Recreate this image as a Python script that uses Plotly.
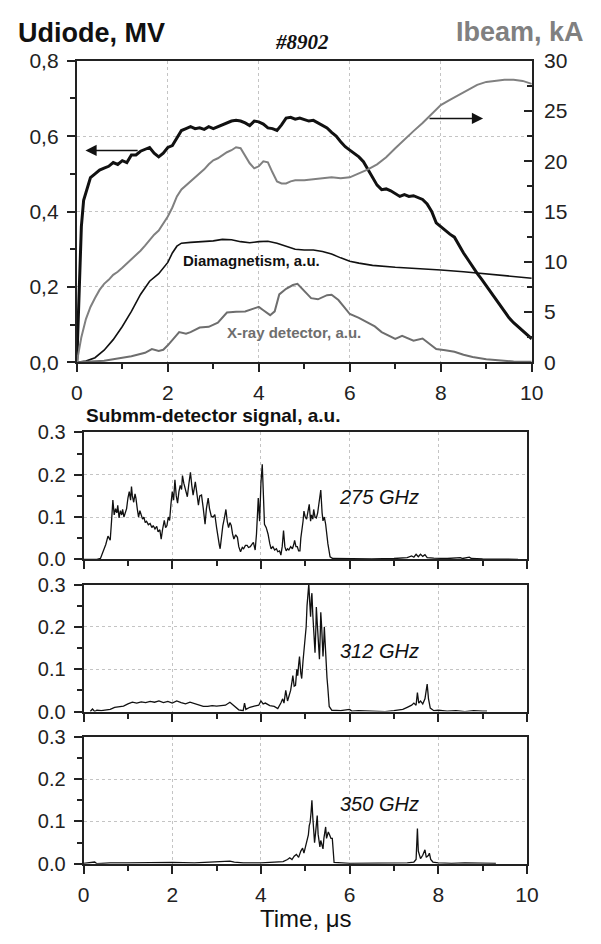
import plotly.graph_objects as go

# ---------------- data ----------------
# Upper panel: diode voltage (MV), beam current (kA), diamagnetic and X-ray signals (a.u.)
t_udiode = [0, 0.05, 0.1, 0.15, 0.2, 0.25, 0.3, 0.4, 0.5, 0.6, 0.7, 0.8, 0.9, 1.0, 1.1, 1.2,
            1.3, 1.4, 1.5, 1.6, 1.7, 1.8, 1.9, 2.0, 2.1, 2.2, 2.3, 2.4, 2.5, 2.6, 2.7, 2.8,
            2.9, 3.0, 3.1, 3.2, 3.3, 3.4, 3.5, 3.6, 3.7, 3.8, 3.9, 4.0, 4.1, 4.2, 4.3, 4.4,
            4.5, 4.6, 4.7, 4.8, 4.9, 5.0, 5.1, 5.2, 5.3, 5.4, 5.5, 5.6, 5.7, 5.8, 5.9, 6.0,
            6.1, 6.2, 6.3, 6.4, 6.5, 6.6, 6.7, 6.8, 6.9, 7.0, 7.1, 7.2, 7.3, 7.4, 7.5, 7.6,
            7.7, 7.8, 7.9, 8.0, 8.1, 8.2, 8.3, 8.4, 8.5, 8.6, 8.7, 8.8, 8.9, 9.0, 9.1, 9.2,
            9.3, 9.4, 9.5, 9.6, 9.7, 9.8, 9.9, 10.0]
udiode = [0, 0.20, 0.36, 0.43, 0.45, 0.47, 0.49, 0.50, 0.51, 0.515, 0.52, 0.53, 0.525, 0.535,
          0.53, 0.55, 0.55, 0.56, 0.565, 0.57, 0.555, 0.545, 0.555, 0.57, 0.575, 0.595, 0.615,
          0.62, 0.625, 0.62, 0.622, 0.618, 0.625, 0.62, 0.625, 0.63, 0.635, 0.64, 0.642, 0.64,
          0.635, 0.628, 0.64, 0.638, 0.632, 0.622, 0.62, 0.615, 0.63, 0.648, 0.65, 0.645, 0.648,
          0.645, 0.64, 0.642, 0.635, 0.63, 0.622, 0.61, 0.60, 0.585, 0.572, 0.563, 0.555, 0.545,
          0.532, 0.51, 0.49, 0.47, 0.458, 0.46, 0.455, 0.448, 0.44, 0.445, 0.44, 0.442, 0.436,
          0.432, 0.42, 0.40, 0.37, 0.36, 0.348, 0.34, 0.332, 0.31, 0.29, 0.272, 0.253, 0.236,
          0.22, 0.203, 0.187, 0.168, 0.15, 0.133, 0.118, 0.105, 0.094, 0.082, 0.071, 0.062]

t_ibeam = [0, 0.1, 0.2, 0.3, 0.4, 0.5, 0.6, 0.7, 0.8, 0.9, 1.0, 1.1, 1.2, 1.3, 1.4, 1.5, 1.6,
           1.7, 1.8, 1.9, 2.0, 2.1, 2.2, 2.3, 2.4, 2.5, 2.6, 2.7, 2.8, 2.9, 3.0, 3.1, 3.2, 3.3,
           3.4, 3.5, 3.6, 3.7, 3.8, 3.9, 4.0, 4.1, 4.2, 4.3, 4.4, 4.5, 4.6, 4.7, 4.8, 5.0, 5.2,
           5.4, 5.6, 5.8, 6.0, 6.2, 6.4, 6.6, 6.8, 7.0, 7.2, 7.4, 7.6, 7.8, 8.0, 8.2, 8.4, 8.6,
           8.8, 9.0, 9.2, 9.4, 9.6, 9.8, 10.0]
ibeam = [0, 2.5, 4.3, 5.5, 6.4, 7.2, 7.8, 8.2, 8.7, 9.0, 9.4, 9.8, 10.3, 10.7, 11.1, 11.6, 12.2,
         12.7, 13.1, 13.8, 14.5, 15.4, 16.5, 17.2, 17.6, 17.9, 18.3, 18.7, 19.2, 19.7, 20.1, 20.3,
         20.6, 20.9, 21.1, 21.4, 21.3, 20.6, 19.8, 19.3, 19.5, 20.0, 19.9, 18.9, 18.0, 17.8, 17.8,
         18.0, 18.1, 18.1, 18.2, 18.3, 18.4, 18.3, 18.4, 18.8, 19.2, 19.7, 20.4, 21.3, 22.2, 23.0,
         23.8, 24.7, 25.6, 26.1, 26.6, 27.1, 27.6, 27.9, 28.0, 28.1, 28.1, 28.0, 27.7]

t_diamag = [0, 0.2, 0.4, 0.6, 0.8, 1.0, 1.2, 1.4, 1.6, 1.8, 2.0, 2.1, 2.2, 2.3, 2.5, 2.8, 3.0,
            3.2, 3.4, 3.6, 3.8, 4.0, 4.2, 4.4, 4.6, 4.8, 5.0, 5.2, 5.4, 5.6, 5.8, 6.0, 6.2, 6.5,
            7.0, 7.5, 8.0, 8.5, 9.0, 9.5, 10.0]
diamag = [0, 0.003, 0.012, 0.032, 0.06, 0.095, 0.135, 0.18, 0.215, 0.235, 0.265, 0.29, 0.308,
          0.316, 0.318, 0.32, 0.322, 0.326, 0.325, 0.32, 0.317, 0.32, 0.321, 0.316, 0.308, 0.30,
          0.298, 0.298, 0.294, 0.287, 0.277, 0.268, 0.263, 0.257, 0.252, 0.249, 0.245, 0.24,
          0.234, 0.228, 0.223]

t_xray = [0, 0.3, 0.6, 0.9, 1.2, 1.5, 1.65, 1.8, 1.9, 2.0, 2.1, 2.25, 2.4, 2.5, 2.7, 2.9, 3.1,
          3.3, 3.5, 3.7, 3.9, 4.0, 4.1, 4.25, 4.35, 4.45, 4.6, 4.75, 4.85, 5.0, 5.15, 5.3, 5.5,
          5.6, 5.75, 5.9, 6.0, 6.2, 6.4, 6.55, 6.7, 6.85, 7.0, 7.15, 7.3, 7.4, 7.6, 7.75, 7.9,
          8.1, 8.3, 8.5, 8.7, 9.0, 9.3, 9.6, 10.0]
xray = [0, 0.001, 0.004, 0.01, 0.016, 0.025, 0.035, 0.03, 0.033, 0.045, 0.06, 0.08, 0.076, 0.08,
        0.092, 0.094, 0.105, 0.132, 0.134, 0.135, 0.143, 0.147, 0.138, 0.125, 0.135, 0.18, 0.195,
        0.205, 0.208, 0.19, 0.17, 0.167, 0.178, 0.179, 0.165, 0.143, 0.128, 0.118, 0.105, 0.095,
        0.08, 0.07, 0.062, 0.07, 0.062, 0.057, 0.063, 0.05, 0.035, 0.032, 0.028, 0.02, 0.014,
        0.008, 0.004, 0.002, 0.001]

# Sub-mm detector signals (a.u.)
t_275 = [0.0, 0.3, 0.38, 0.45, 0.5, 0.55, 0.6, 0.63, 0.66, 0.69, 0.72, 0.75, 0.77, 0.8, 0.83,
         0.86, 0.88, 0.91, 0.94, 0.97, 1.0, 1.03, 1.06, 1.08, 1.1, 1.13, 1.16, 1.18, 1.21, 1.24,
         1.27, 1.3, 1.33, 1.36, 1.39, 1.42, 1.46, 1.5, 1.54, 1.57, 1.61, 1.65, 1.68, 1.72, 1.75,
         1.78, 1.82, 1.85, 1.88, 1.91, 1.94, 1.97, 2.0, 2.03, 2.06, 2.09, 2.12, 2.15, 2.18, 2.21,
         2.23, 2.26, 2.28, 2.31, 2.34, 2.37, 2.41, 2.44, 2.47, 2.5, 2.52, 2.55, 2.59, 2.62, 2.66,
         2.7, 2.74, 2.77, 2.81, 2.84, 2.88, 2.92, 2.96, 3.0, 3.03, 3.06, 3.08, 3.11, 3.14, 3.18,
         3.21, 3.24, 3.27, 3.3, 3.33, 3.36, 3.39, 3.43, 3.47, 3.5, 3.54, 3.58, 3.61, 3.65, 3.69,
         3.72, 3.76, 3.8, 3.83, 3.87, 3.9, 3.94, 3.97, 4.0, 4.03, 4.06, 4.08, 4.12, 4.16, 4.2,
         4.23, 4.27, 4.31, 4.35, 4.38, 4.42, 4.45, 4.48, 4.51, 4.54, 4.57, 4.6, 4.63, 4.67, 4.71,
         4.74, 4.76, 4.79, 4.82, 4.85, 4.88, 4.9, 4.92, 4.95, 4.97, 5.0, 5.03, 5.06, 5.09, 5.12,
         5.14, 5.17, 5.19, 5.22, 5.25, 5.28, 5.31, 5.35, 5.38, 5.4, 5.43, 5.46, 5.51, 5.56, 5.62,
         6.0, 6.5, 7.0, 7.3, 7.4, 7.45, 7.5, 7.55, 7.6, 7.65, 7.7, 7.75, 7.9, 8.2, 8.5, 8.55,
         8.7, 8.75, 9.0, 9.5, 9.8]
s_275 = [0, 0, 0.002, 0.02, 0.035, 0.055, 0.045, 0.09, 0.14, 0.105, 0.12, 0.11, 0.128, 0.098,
         0.115, 0.105, 0.118, 0.1, 0.108, 0.12, 0.145, 0.16, 0.14, 0.172, 0.15, 0.135, 0.155,
         0.145, 0.12, 0.1, 0.115, 0.105, 0.095, 0.1, 0.087, 0.09, 0.082, 0.085, 0.075, 0.08,
         0.072, 0.078, 0.065, 0.07, 0.048, 0.07, 0.092, 0.075, 0.08, 0.1, 0.092, 0.13, 0.16,
         0.14, 0.188, 0.15, 0.133, 0.16, 0.175, 0.165, 0.198, 0.18, 0.17, 0.16, 0.148, 0.175,
         0.206, 0.175, 0.152, 0.17, 0.183, 0.16, 0.128, 0.15, 0.152, 0.12, 0.083, 0.12, 0.145,
         0.12, 0.102, 0.1, 0.106, 0.075, 0.048, 0.035, 0.025, 0.06, 0.079, 0.1, 0.118, 0.09,
         0.075, 0.087, 0.08, 0.06, 0.048, 0.058, 0.052, 0.03, 0.018, 0.028, 0.025, 0.033, 0.033,
         0.028, 0.03, 0.036, 0.04, 0.022, 0.06, 0.145, 0.09, 0.18, 0.225, 0.14, 0.083, 0.075,
         0.06, 0.037, 0.025, 0.03, 0.022, 0.025, 0.018, 0.02, 0.01, 0.03, 0.068, 0.03, 0.02,
         0.025, 0.022, 0.03, 0.025, 0.035, 0.045, 0.03, 0.03, 0.02, 0.02, 0.05, 0.064, 0.09,
         0.114, 0.1, 0.095, 0.115, 0.13, 0.09, 0.105, 0.095, 0.118, 0.1, 0.098, 0.11, 0.13,
         0.164, 0.11, 0.091, 0.1, 0.083, 0.037, 0.006, 0.002, 0.001, 0.001, 0.002, 0.004, 0.008,
         0.005, 0.012, 0.006, 0.012, 0.007, 0.011, 0.004, 0.003, 0.002, 0.004, 0.002, 0.005,
         0.002, 0.001, 0, 0]

t_312 = [0.15, 0.2, 0.25, 0.3, 0.4, 0.5, 0.6, 0.7, 0.8, 0.9, 1.0, 1.1, 1.2, 1.3, 1.4, 1.5, 1.6,
         1.7, 1.8, 1.9, 2.0, 2.1, 2.2, 2.3, 2.4, 2.5, 2.6, 2.7, 2.8, 2.9, 3.0, 3.1, 3.2, 3.3,
         3.4, 3.5, 3.6, 3.63, 3.66, 3.75, 3.85, 3.95, 4.0, 4.05, 4.1, 4.2, 4.3, 4.38, 4.45, 4.49,
         4.52, 4.56, 4.6, 4.64, 4.67, 4.7, 4.72, 4.75, 4.78, 4.81, 4.83, 4.85, 4.87, 4.9, 4.92,
         4.95, 4.97, 5.0, 5.02, 5.04, 5.05, 5.07, 5.08, 5.1, 5.12, 5.14, 5.15, 5.17, 5.19, 5.21,
         5.22, 5.24, 5.25, 5.27, 5.29, 5.31, 5.32, 5.34, 5.35, 5.37, 5.4, 5.42, 5.43, 5.45, 5.47,
         5.49, 5.51, 5.54, 5.6, 5.8, 6.0, 6.05, 6.2, 6.5, 6.8, 7.0, 7.1, 7.2, 7.3, 7.4, 7.45, 7.5,
         7.53, 7.56, 7.6, 7.65, 7.7, 7.73, 7.75, 7.78, 7.82, 7.9, 8.0, 8.2, 8.4, 8.6, 8.8, 9.0,
         9.1]
s_312 = [0.0, 0.006, 0.0, 0.003, 0.002, 0.004, 0.005, 0.01, 0.011, 0.013, 0.018, 0.022, 0.02,
         0.023, 0.021, 0.024, 0.022, 0.025, 0.021, 0.024, 0.02, 0.025, 0.021, 0.018, 0.022,
         0.019, 0.015, 0.012, 0.012, 0.014, 0.013, 0.014, 0.015, 0.022, 0.012, 0.004, 0.002,
         0.02, 0.005, 0.01, 0.013, 0.015, 0.025, 0.018, 0.02, 0.014, 0.012, 0.007, 0.02, 0.03,
         0.02, 0.05, 0.025, 0.04, 0.05, 0.07, 0.085, 0.06, 0.062, 0.1, 0.085, 0.11, 0.13, 0.09,
         0.078, 0.12, 0.147, 0.17, 0.2, 0.25, 0.27, 0.29, 0.302, 0.26, 0.224, 0.27, 0.28, 0.23,
         0.2, 0.16, 0.139, 0.2, 0.247, 0.21, 0.162, 0.13, 0.124, 0.19, 0.235, 0.2, 0.13, 0.17,
         0.2, 0.16, 0.108, 0.08, 0.055, 0.012, 0.003, 0.002, 0.005, 0.001, 0.002, 0.001, 0.0,
         0.002, 0.003, 0.005, 0.01, 0.015, 0.02, 0.015, 0.045, 0.02, 0.025, 0.018, 0.03, 0.05,
         0.065, 0.03, 0.008, 0.002, 0.003, 0.001, 0.002, 0.0, 0.002, 0.001, 0.001]

t_350 = [0, 0.2, 0.25, 0.3, 0.6, 1.0, 1.5, 2.0, 2.5, 3.0, 3.3, 3.4, 3.6, 4.0, 4.3, 4.5, 4.6,
         4.65, 4.7, 4.75, 4.8, 4.85, 4.9, 4.94, 4.97, 5.0, 5.04, 5.07, 5.09, 5.11, 5.13, 5.15,
         5.17, 5.19, 5.21, 5.23, 5.25, 5.27, 5.29, 5.31, 5.33, 5.35, 5.37, 5.4, 5.42, 5.44, 5.46,
         5.48, 5.5, 5.52, 5.55, 5.58, 5.61, 5.63, 5.65, 6.0, 6.5, 7.0, 7.3, 7.45, 7.5, 7.53,
         7.55, 7.6, 7.65, 7.7, 7.73, 7.78, 7.8, 7.83, 7.88, 8.0, 8.3, 8.6, 9.0, 9.3]
s_350 = [0.001, 0.002, 0.004, 0.0, 0.002, 0.002, 0.003, 0.003, 0.002, 0.004, 0.006, 0.004,
         0.002, 0.002, 0.003, 0.005, 0.01, 0.014, 0.01, 0.018, 0.022, 0.015, 0.03, 0.037, 0.025,
         0.04, 0.06, 0.068, 0.09, 0.098, 0.12, 0.15, 0.11, 0.08, 0.05, 0.07, 0.1, 0.114, 0.07,
         0.05, 0.04, 0.055, 0.045, 0.035, 0.06, 0.075, 0.087, 0.06, 0.068, 0.075, 0.068, 0.06,
         0.06, 0.02, 0.003, 0.001, 0.001, 0.002, 0.002, 0.004, 0.01, 0.083, 0.03, 0.012, 0.02,
         0.033, 0.015, 0.02, 0.025, 0.01, 0.004, 0.002, 0.001, 0.002, 0.001, 0.001]

# Tick labels
top_y_vals = [0.0, 0.2, 0.4, 0.6, 0.8]
top_y_text = ["0,0", "0,2", "0,4", "0,6", "0,8"]
ibeam_ticks = [0, 5, 10, 15, 20, 25, 30]
sig_y_vals = [0.0, 0.1, 0.2, 0.3]
sig_y_text = ["0.0", "0.1", "0.2", "0.3"]
time_ticks = [0, 2, 4, 6, 8, 10]

# ---------------- figure ----------------
W, H = 601, 944
FONT = "Liberation Sans, Arial, sans-serif"
AX = "#222222"
GRAY = "#808080"


def px_x(p):
    return p / W


def px_y(p):
    return 1 - p / H


fig = go.Figure()

# upper panel traces
fig.add_trace(go.Scatter(x=t_udiode, y=udiode, mode="lines", xaxis="x", yaxis="y",
                         line=dict(color="#111111", width=3)))
fig.add_trace(go.Scatter(x=t_diamag, y=diamag, mode="lines", xaxis="x", yaxis="y",
                         line=dict(color="#111111", width=1.6)))
fig.add_trace(go.Scatter(x=t_xray, y=xray, mode="lines", xaxis="x", yaxis="y",
                         line=dict(color="#6e6e6e", width=2)))
fig.add_trace(go.Scatter(x=t_ibeam, y=ibeam, mode="lines", xaxis="x", yaxis="y2",
                         line=dict(color=GRAY, width=2)))

# detector panels
for xa, ya, tt, ss in [("x2", "y3", t_275, s_275), ("x3", "y4", t_312, s_312),
                       ("x4", "y5", t_350, s_350)]:
    fig.add_trace(go.Scatter(x=tt, y=ss, mode="lines", xaxis=xa, yaxis=ya,
                             line=dict(color="#111111", width=1.3)))

grid = dict(showgrid=True, gridcolor="#c4c4c4", griddash="dot", gridwidth=1)
line = dict(showline=True, linecolor=AX, linewidth=2, zeroline=False)

# top panel axes
top_dom_x = [px_x(73), px_x(542)]
top_dom_y = [px_y(359), px_y(50)]
layout = dict(
    width=W, height=H, margin=dict(l=0, r=0, t=0, b=0),
    paper_bgcolor="white", plot_bgcolor="white", showlegend=False,
    font=dict(family=FONT, color=AX),
    xaxis=dict(domain=top_dom_x, anchor="y", range=[0, 10], tickvals=time_ticks,
               ticks="outside", ticklen=8, tickwidth=2, tickcolor=AX, mirror=True,
               tickfont=dict(size=21), ticklabelstandoff=3,
               minor=dict(dtick=1, tick0=0, ticks="outside", ticklen=5, tickwidth=2,
                          tickcolor=AX, showgrid=False),
               **grid, **line),
    yaxis=dict(domain=top_dom_y, anchor="x", range=[0, 0.8], tickvals=top_y_vals,
               ticktext=top_y_text, ticks="outside", ticklen=8, tickwidth=2, tickcolor=AX,
               tickfont=dict(size=21), ticklabelstandoff=4,
               minor=dict(dtick=0.1, tick0=0, ticks="outside", ticklen=5, tickwidth=2,
                          tickcolor=AX, showgrid=False),
               **grid, **line),
    yaxis2=dict(overlaying="y", anchor="x", side="right", range=[0, 30],
                tickvals=ibeam_ticks, ticks="inside", ticklen=8, tickwidth=2, tickcolor=AX,
                tickfont=dict(size=21), showgrid=False, ticklabelstandoff=6,
                minor=dict(dtick=2.5, tick0=0, ticks="inside", ticklen=5, tickwidth=2,
                           tickcolor=AX),
                **line),
)

# detector panels axes
sig_dom_x = [px_x(80), px_x(537)]
panel_px = [(431, 561), (587, 717), (743, 873)]
for i, (ptop, pbot) in enumerate(panel_px):
    xa = "xaxis%d" % (i + 2)
    ya = "yaxis%d" % (i + 3)
    last = i == len(panel_px) - 1
    layout[xa] = dict(domain=sig_dom_x, anchor="y%d" % (i + 3), range=[0, 10],
                      tickvals=time_ticks, showticklabels=last, ticks="outside", ticklen=8,
                      tickwidth=2, tickcolor=AX, mirror=True, tickfont=dict(size=21),
                      ticklabelstandoff=3,
                      minor=dict(dtick=1, tick0=0, ticks="outside", ticklen=5, tickwidth=2,
                                 tickcolor=AX, showgrid=False),
                      **grid, **line)
    layout[ya] = dict(domain=[px_y(pbot), px_y(ptop)], anchor="x%d" % (i + 2),
                      range=[0, 0.3], tickvals=sig_y_vals, ticktext=sig_y_text,
                      ticks="outside", ticklen=8, tickwidth=2, tickcolor=AX, mirror=True,
                      tickfont=dict(size=20), ticklabelstandoff=4,
                      minor=dict(dtick=0.05, tick0=0, ticks="outside", ticklen=5,
                                 tickwidth=2, tickcolor=AX, showgrid=False),
                      **grid, **line)

fig.update_layout(**layout)

# titles and labels
ann = [
    dict(text="<b>Udiode, MV</b>", x=px_x(10), y=px_y(22), xanchor="left",
         font=dict(size=27, color="#111111")),
    dict(text="<b>Ibeam, kA</b>", x=px_x(598), y=px_y(21), xanchor="right",
         font=dict(size=27, color=GRAY)),
    dict(text="<b><i>#8902</i></b>", x=px_x(305), y=px_y(31), xanchor="center",
         font=dict(size=21, color="#111111", family="Liberation Serif, Times New Roman, serif")),
    dict(text="<b>Submm-detector signal, a.u.</b>", x=px_x(80), y=px_y(414), xanchor="left",
         font=dict(size=19, color="#111111")),
    dict(text="Time, \u03bcs", x=px_x(309), y=px_y(929), xanchor="center",
         font=dict(size=24, color="#111111")),
]
for a in ann:
    fig.add_annotation(xref="paper", yref="paper", yanchor="middle", showarrow=False, **a)

fig.add_annotation(text="<b>Diamagnetism, a.u.</b>", x=3.83, y=0.269, xref="x", yref="y",
                   showarrow=False, font=dict(size=15, color="#111111"))
fig.add_annotation(text="<b>X-ray detector, a.u.</b>", x=4.77, y=0.078, xref="x", yref="y",
                   showarrow=False, font=dict(size=15, color="#6e6e6e"))

# arrows pointing to the relevant axes
fig.add_annotation(x=0.19, y=0.562, ax=1.37, ay=0.562, xref="x", yref="y", axref="x",
                   ayref="y", text="", showarrow=True, arrowhead=2, arrowsize=1.4,
                   arrowwidth=1.6, arrowcolor="#111111")
fig.add_annotation(x=8.93, y=0.647, ax=7.72, ay=0.647, xref="x", yref="y", axref="x",
                   ayref="y", text="", showarrow=True, arrowhead=2, arrowsize=1.4,
                   arrowwidth=1.6, arrowcolor="#111111")

for xr, yr, txt, v in [("x2", "y3", "275 GHz", 0.148), ("x3", "y4", "312 GHz", 0.143),
                       ("x4", "y5", "350 GHz", 0.141)]:
    fig.add_annotation(text="<i>%s</i>" % txt, x=6.67, y=v, xref=xr, yref=yr,
                       showarrow=False, font=dict(size=20, color="#111111"))

fig.write_html("out.html")
